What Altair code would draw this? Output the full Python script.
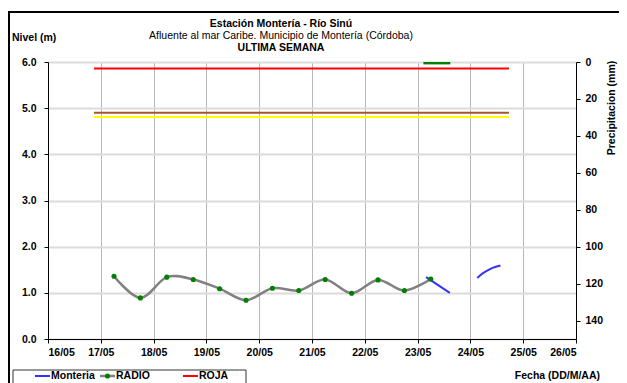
import altair as alt
import pandas as pd

# ---------------- data ----------------
radio_day = [17.25, 17.75, 18.25, 18.75, 19.25, 19.75, 20.25, 20.75, 21.25, 21.75, 22.25, 22.75, 23.25]
radio_level = [1.36, 0.89, 1.34, 1.29, 1.09, 0.84, 1.10, 1.05, 1.29, 0.99, 1.28, 1.05, 1.30]

monteria_day = [23.16, 23.61, 24.13, 24.22, 24.30, 24.42, 24.57]
monteria_level = [1.34, 1.00, 1.32, 1.41, 1.47, 1.54, 1.59]
monteria_seg = [1, 1, 2, 2, 2, 2, 2]

threshold_names = ["ROJA", "NARANJA", "AMARILLA"]
threshold_level = [5.86, 4.90, 4.81]
threshold_start = [16.87, 16.87, 16.87]
threshold_end = [24.73, 24.73, 24.73]
threshold_colors = ["#ff0000", "#a8562e", "#ffff00"]

precip_start = [23.11]
precip_end = [23.62]
precip_mm = [1.3]

day_ticks = list(range(16, 27))
level_ticks = [0, 1, 2, 3, 4, 5, 6]
precip_ticks = [0, 20, 40, 60, 80, 100, 120, 140]

FONT = "Liberation Sans"

radio_df = pd.DataFrame({"day": radio_day, "level": radio_level})
mont_df = pd.DataFrame({"day": monteria_day, "level": monteria_level, "seg": monteria_seg})
thr_df = pd.DataFrame({"name": threshold_names, "level": threshold_level,
                       "start": threshold_start, "end": threshold_end})
pre_df = pd.DataFrame({"start": precip_start, "end": precip_end, "mm": precip_mm,
                       "zero": [0] * len(precip_mm)})
one = pd.DataFrame({"a": [0]})

xscale = alt.Scale(domain=[16, 26], nice=False, zero=False)
yscale = alt.Scale(domain=[0, 6], nice=False, zero=True)

x_axis = alt.Axis(values=day_ticks, labelExpr="format(datum.value, '02d') + '/05'",
                  title=None, grid=True, gridColor="#b8b8b8", gridWidth=1,
                  tickSize=4, tickColor="black", domainColor="black",
                  labelFont=FONT, labelFontWeight="bold", labelFontSize=10.5,
                  labelColor="black", labelPadding=4)
y_axis = alt.Axis(values=level_ticks, format=".1f", title=None, grid=True,
                  gridColor="#dcdcdc", gridWidth=2, tickSize=4, tickColor="black",
                  domainColor="black", labelFont=FONT, labelFontWeight="bold",
                  labelFontSize=10.5, labelColor="black", labelPadding=8)


def X(field):
    return alt.X(field, scale=xscale, axis=x_axis)


def Y(field):
    return alt.Y(field, scale=yscale, axis=y_axis)


thr = alt.Chart(thr_df).mark_rule(strokeWidth=2).encode(
    x=X("start:Q"),
    x2="end:Q",
    y=Y("level:Q"),
    color=alt.Color("name:N", scale=alt.Scale(domain=threshold_names, range=threshold_colors),
                    legend=None),
)

radio_line = alt.Chart(radio_df).mark_line(color="#808080", strokeWidth=2.5,
                                           interpolate="cardinal").encode(
    x=X("day:Q"), y=Y("level:Q"))
radio_pts = alt.Chart(radio_df).mark_circle(color="#008000", size=26, opacity=1).encode(
    x=X("day:Q"), y=Y("level:Q"))
mont_line = alt.Chart(mont_df).mark_line(color="#3333ff", strokeWidth=2,
                                         interpolate="monotone").encode(
    x=X("day:Q"), y=Y("level:Q"), detail="seg:N")

level_layer = alt.layer(thr, radio_line, mont_line, radio_pts)

precip = alt.Chart(pre_df).mark_rect(color="#008000").encode(
    x=X("start:Q"),
    x2="end:Q",
    y=alt.Y("zero:Q", scale=alt.Scale(domain=[0, 150], reverse=True, nice=False),
            axis=alt.Axis(orient="right", values=precip_ticks, title=None, grid=False,
                          tickSize=4, tickColor="black", domainColor="black",
                          labelFont=FONT, labelFontWeight="bold", labelFontSize=10.5,
                          labelColor="black", labelPadding=5)),
    y2="mm:Q",
)


def txt(s, x, y, weight="bold", size=10, align="center", angle=0):
    return alt.Chart(one).mark_text(text=s, font=FONT, fontWeight=weight, fontSize=size,
                                    align=align, baseline="middle", angle=angle,
                                    color="black").encode(x=alt.value(x), y=alt.value(y))


def rule(x, y, x2=None, y2=None, color="black", w=1):
    enc = {"x": alt.value(x), "y": alt.value(y)}
    if x2 is not None:
        enc["x2"] = alt.value(x2)
    if y2 is not None:
        enc["y2"] = alt.value(y2)
    return alt.Chart(one).mark_rule(color=color, strokeWidth=w).encode(**enc)


annotations = [
    txt("Estación Montería  - Río Sinú", 233, -38, size=10.5),
    txt("Afluente al mar Caribe. Municipio de Montería (Córdoba)", 233, -26, weight="normal",
        size=10.5),
    txt("ULTIMA SEMANA", 233, -14, size=10.5),
    txt("Nivel (m)", -36, -24, align="left", size=10.5),
    txt("Precipitacion (mm)", 564, 46, angle=270, size=10.5),
    txt("Fecha (DD/M/AA)", 552, 314, align="right", size=10.5),
    # outer frame
    rule(-39, -50, y2=340, w=2),
    rule(-40, -50, x2=580, w=2),
    # legend box
    alt.Chart(one).mark_rect(fillOpacity=0, stroke="#333333", strokeWidth=1).encode(
        x=alt.value(-35), x2=alt.value(198), y=alt.value(308), y2=alt.value(340)),
    rule(-13, 314, x2=2, color="#3333ff", w=2),
    txt("Monteria", 3, 314, align="left", size=10.5),
    rule(52, 314, x2=67, color="#808080", w=2.5),
    alt.Chart(one).mark_circle(color="#008000", size=26, opacity=1).encode(
        x=alt.value(59.5), y=alt.value(314)),
    txt("RADIO", 68, 314, align="left", size=10.5),
    rule(135, 314, x2=150, color="#ff0000", w=2),
    txt("ROJA", 151, 314, align="left", size=10.5),
]

chart = alt.layer(level_layer, precip, *annotations).resolve_scale(y="independent").properties(
    width=528, height=277,
    padding={"left": 40, "top": 54, "right": 43, "bottom": 44},
    autosize=alt.AutoSizeParams(type="none"),
).configure_view(stroke="#a0a0a0", strokeWidth=1)

chart.save("out.html", embed_options={"renderer": "svg", "actions": False})
